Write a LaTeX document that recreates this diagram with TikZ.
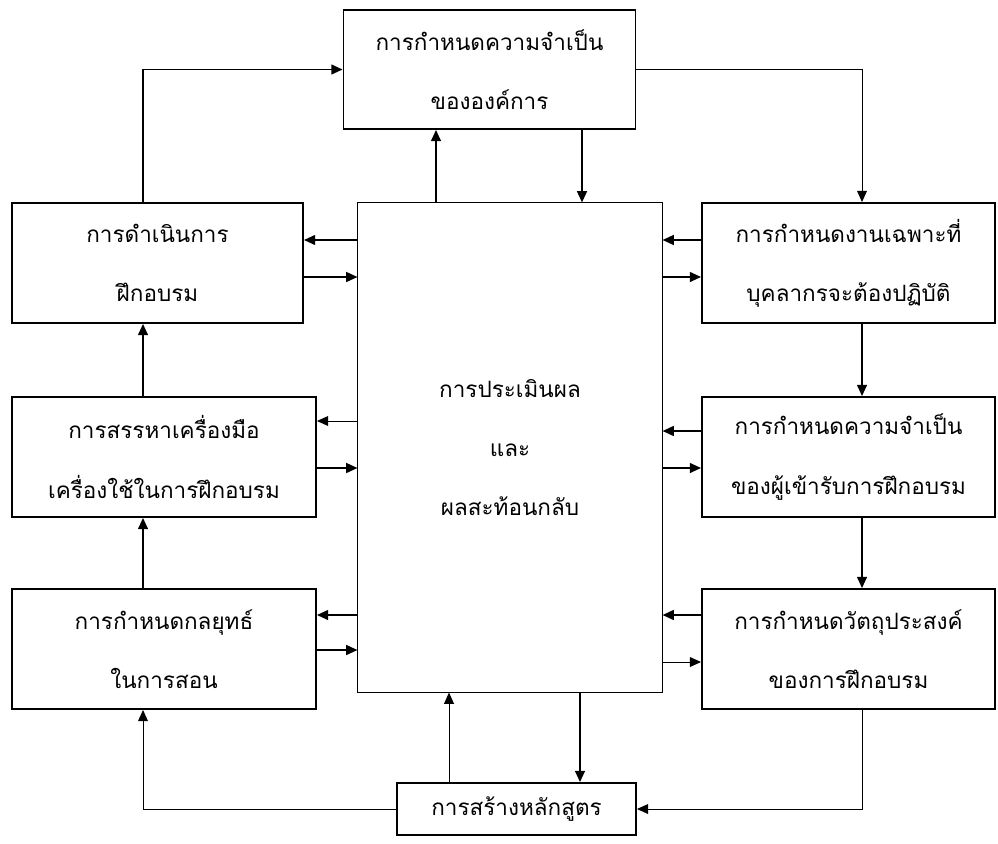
\documentclass[tikz,border=0pt]{standalone}
\usepackage{fontspec}
\newfontfamily\thaifont[Script=Thai]{Loma}
\usetikzlibrary{arrows.meta}

\begin{document}
\begin{tikzpicture}[
	x = 0.025cm,
	y = -0.025cm,
	line width = 1.3pt,
	>={Triangle[length=8pt,width=7pt]},
	box/.style = {
		draw,
		rectangle,
		minimum width = 7.3cm,
		minimum height = 3cm,
		inner sep = 0pt,
		align = center,
		font = \thaifont\fontsize{16}{42}\selectfont
	},
	thinline/.style = {line width = 0.7pt}
	]
	\useasboundingbox (0,0) rectangle (998,843);
	% boxes
	\node[box, minimum height = 2.975cm] (goal) at (489.5,69.5) {การกำหนดความจำเป็น\\ขององค์การ};
	\node[box, thinline, minimum width = 7.6cm, minimum height = 12.225cm] (eval) at (510,447.5) {การประเมินผล\\และ\\ผลสะท้อนกลับ};
	\node[box, minimum width = 7.275cm] (left1) at (157.5,263) {การดำเนินการ\\ฝึกอบรม};
	\node[box, minimum width = 7.6cm] (left2) at (164,457) {การสรรหาเครื่องมือ\\เครื่องใช้ในการฝึกอบรม};
	\node[box, minimum width = 7.6cm] (left3) at (164,649) {การกำหนดกลยุทธ์\\ในการสอน};
	\node[box, minimum width = 7.325cm] (right1) at (848.5,263) {การกำหนดงานเฉพาะที่\\บุคลากรจะต้องปฏิบัติ};
	\node[box, minimum width = 7.325cm] (right2) at (848.5,457) {การกำหนดความจำเป็น\\ของผู้เข้ารับการฝึกอบรม};
	\node[box, minimum width = 7.325cm] (right3) at (848.5,649) {การกำหนดวัตถุประสงค์\\ของการฝึกอบรม};
	\node[box, minimum width = 5.975cm, minimum height = 1.3cm] (course) at (516.5,809) {การสร้างหลักสูตร};

	% outer loop
	\draw[->] (left1.north -| 143,0) |- (goal.west);
	\draw[->, thinline] (goal.east) -| (right1.north -| 862,0);
	\draw[->] (right1.south -| 862,0) -- (right2.north -| 862,0);
	\draw[->] (right2.south -| 862,0) -- (right3.north -| 862,0);
	\draw[->, thinline] (right3.south -| 862,0) |- (course.east);
	\draw[->, thinline] (course.west) -| (left3.south -| 143,0);
	\draw[->] (left3.north -| 143,0) -- (left2.south -| 143,0);
	\draw[->] (left2.north -| 143,0) -- (left1.south -| 143,0);

	% to and from the centre
	\draw[->] (eval.north -| 436,0) -- (goal.south -| 436,0);
	\draw[->] (goal.south -| 582,0) -- (eval.north -| 582,0);
	\draw[->] (eval.south -| 580,0) -- (course.north -| 580,0);
	\draw[->, thinline] (course.north -| 449,0) -- (eval.south -| 449,0);

	\draw[->] (eval.west |- 0,240) -- (left1.east |- 0,240);
	\draw[->] (left1.east |- 0,277) -- (eval.west |- 0,277);
	\draw[->, thinline] (eval.west |- 0,421) -- (left2.east |- 0,421);
	\draw[->] (left2.east |- 0,468) -- (eval.west |- 0,468);
	\draw[->] (eval.west |- 0,615) -- (left3.east |- 0,615);
	\draw[->] (left3.east |- 0,650) -- (eval.west |- 0,650);

	\draw[->] (right1.west |- 0,240) -- (eval.east |- 0,240);
	\draw[->] (eval.east |- 0,277) -- (right1.west |- 0,277);
	\draw[->] (right2.west |- 0,431) -- (eval.east |- 0,431);
	\draw[->] (eval.east |- 0,468) -- (right2.west |- 0,468);
	\draw[->] (right3.west |- 0,615) -- (eval.east |- 0,615);
	\draw[->, thinline] (eval.east |- 0,662) -- (right3.west |- 0,662);
\end{tikzpicture}
\end{document}
